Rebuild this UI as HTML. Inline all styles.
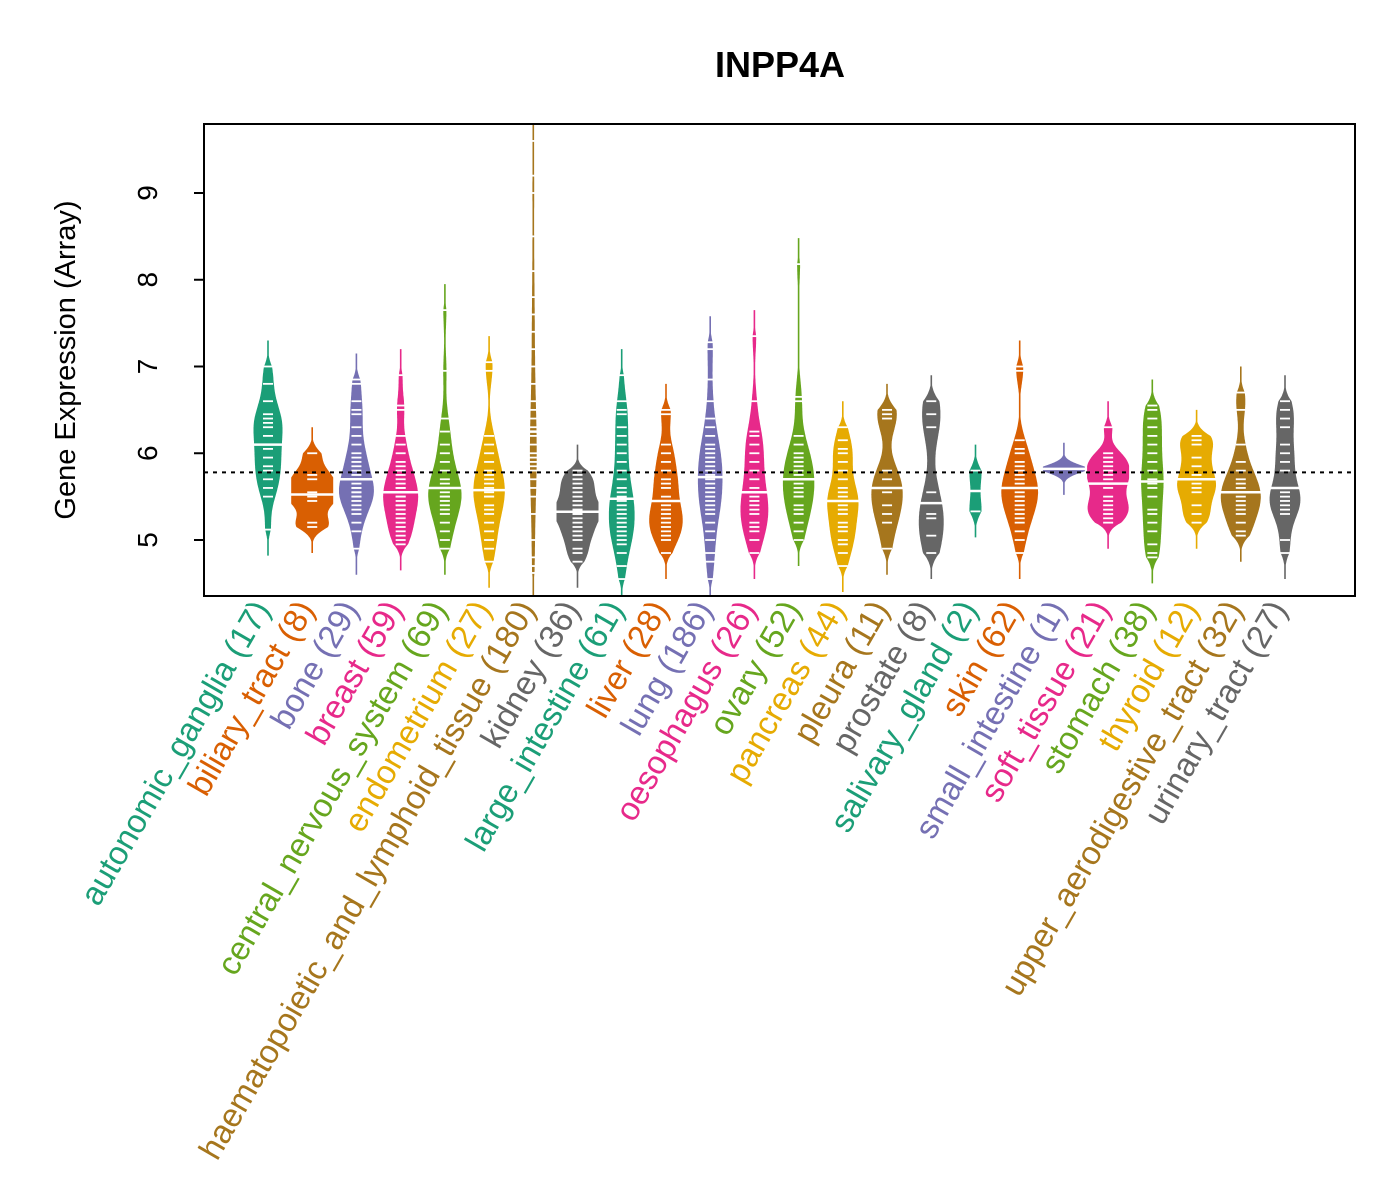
<!DOCTYPE html>
<html><head><meta charset="utf-8"><style>
body{margin:0;background:#fff;}
svg{display:block;font-family:"Liberation Sans",sans-serif;}
</style></head><body>
<svg id="chart" width="1400" height="1200" viewBox="0 0 1400 1200">
<defs><clipPath id="pc"><rect x="204" y="124" width="1151" height="472"/></clipPath></defs>
<rect width="1400" height="1200" fill="#fff"/>
<text x="780" y="77" text-anchor="middle" font-size="36" font-weight="bold">INPP4A</text>
<text transform="translate(75,360) rotate(-90)" text-anchor="middle" font-size="29">Gene Expression (Array)</text>
<g id="yaxis"></g>
<g id="beans" clip-path="url(#pc)"></g>
<line id="refline" stroke="#000" stroke-width="2" stroke-dasharray="4,5"/>
<rect x="204" y="124" width="1151" height="472" fill="none" stroke="#000" stroke-width="2"/>
<g id="labels"></g>
</svg>
<script>
const categories=["autonomic_ganglia","biliary_tract","bone","breast","central_nervous_system","endometrium","haematopoietic_and_lymphoid_tissue","kidney","large_intestine","liver","lung","oesophagus","ovary","pancreas","pleura","prostate","salivary_gland","skin","small_intestine","soft_tissue","stomach","thyroid","upper_aerodigestive_tract","urinary_tract"];
const counts=[17,8,29,59,69,27,180,36,61,28,186,26,52,44,11,8,2,62,1,21,38,12,32,27];
const samples=[
[5.12,5.5,5.6,5.7,5.8,5.85,5.95,6.05,6.1,6.2,6.3,6.35,6.4,6.45,6.6,6.8,7.0],
[5.15,5.2,5.45,5.5,5.55,5.7,5.75,6.0],
[4.9,5.1,5.2,5.3,5.35,5.4,5.45,5.5,5.5,5.55,5.55,5.6,5.6,5.65,5.7,5.75,5.8,5.85,5.9,5.95,6.0,6.1,6.2,6.3,6.45,6.5,6.6,6.8,6.85],
[4.95,5.0,5.05,5.1,5.15,5.2,5.25,5.3,5.35,5.4,5.4,5.45,5.5,5.5,5.55,5.6,5.6,5.65,5.7,5.75,5.8,5.85,5.9,6.0,6.1,6.2,6.5,6.55,6.9],
[4.9,5.0,5.1,5.2,5.3,5.35,5.4,5.45,5.5,5.5,5.55,5.6,5.6,5.65,5.7,5.8,5.9,6.0,6.1,6.25,6.4,6.95,7.65],
[4.75,4.9,5.0,5.1,5.2,5.3,5.35,5.4,5.5,5.5,5.55,5.6,5.65,5.7,5.75,5.8,5.9,6.0,6.1,6.2,6.95,7.05],
[4.62,4.7,4.8,5.0,5.3,5.5,5.6,5.7,5.8,5.85,5.9,5.95,6.0,6.1,6.2,6.3,6.4,6.5,6.6,6.8,7.0,7.2,7.4,7.6,7.8,8.1,8.5,9.0,9.2,9.6],
[4.75,4.85,4.9,5.0,5.05,5.1,5.15,5.2,5.25,5.3,5.3,5.35,5.35,5.4,5.45,5.5,5.55,5.6,5.65,5.7,5.75,5.8],
[4.55,4.7,4.85,4.95,5.0,5.05,5.1,5.15,5.2,5.25,5.3,5.35,5.4,5.45,5.5,5.55,5.6,5.7,5.8,5.9,6.0,6.1,6.2,6.3,6.45,6.5,6.6,6.9],
[4.85,5.0,5.05,5.1,5.15,5.2,5.25,5.3,5.35,5.4,5.5,5.6,5.65,5.7,5.8,5.9,6.0,6.1,6.45,6.5],
[4.55,4.75,4.85,5.0,5.1,5.2,5.3,5.35,5.4,5.45,5.5,5.55,5.6,5.65,5.7,5.75,5.8,5.85,5.9,5.95,6.0,6.05,6.1,6.2,6.3,6.4,6.6,6.85,7.2,7.28],
[4.85,5.0,5.1,5.15,5.2,5.3,5.35,5.4,5.45,5.5,5.6,5.7,5.8,5.9,6.0,6.1,6.2,6.25,6.6,7.35],
[5.0,5.1,5.2,5.3,5.35,5.4,5.5,5.5,5.55,5.6,5.65,5.7,5.75,5.8,5.85,5.9,5.95,6.0,6.1,6.2,6.6,6.65,8.18],
[4.7,4.85,4.95,5.0,5.1,5.15,5.2,5.3,5.35,5.4,5.45,5.5,5.55,5.6,5.7,5.8,5.9,6.0,6.05,6.15,6.3],
[4.9,5.2,5.3,5.4,5.55,5.6,5.7,5.8,6.4,6.45,6.5],
[4.85,5.05,5.25,5.3,5.55,6.3,6.45,6.6],
[5.33,5.8],
[4.85,5.0,5.1,5.2,5.25,5.3,5.35,5.4,5.45,5.5,5.5,5.55,5.6,5.6,5.65,5.7,5.75,5.8,5.85,5.9,6.0,6.05,6.15,6.95,7.0],
[5.82],
[5.2,5.25,5.3,5.35,5.4,5.45,5.5,5.6,5.65,5.7,5.75,5.8,5.85,5.9,5.95,6.0,6.3],
[4.8,4.85,4.95,5.1,5.2,5.3,5.35,5.5,5.6,5.65,5.7,5.8,5.9,6.0,6.1,6.2,6.3,6.4,6.5,6.55],
[5.2,5.3,5.4,5.55,5.6,5.65,5.75,5.85,5.95,6.1,6.15,6.2],
[5.05,5.1,5.2,5.3,5.35,5.4,5.45,5.5,5.55,5.6,5.65,5.7,5.8,5.9,6.1,6.5,6.7],
[4.85,5.0,5.3,5.35,5.4,5.45,5.5,5.55,5.6,5.8,5.9,6.0,6.1,6.3,6.4,6.5,6.6]
];
const overallMean=5.78;
const yTicks=[5,6,7,8,9];
const palette=["#1B9E77","#D95F02","#7570B3","#E7298A","#66A61E","#E6AB02","#A6761D","#666666"];

const NS="http://www.w3.org/2000/svg";
function mk(t,a,p){const e=document.createElementNS(NS,t);for(const k in a)e.setAttribute(k,a[k]);p.appendChild(e);return e;}
const yS=v=>540-(v-5)*86.75;
const xS=i=>268+i*((1285-268)/(categories.length-1));

const yax=document.getElementById('yaxis');
yTicks.forEach(t=>{
  const l=mk('line',{x1:194,x2:204,y1:yS(t),y2:yS(t),stroke:'#000','stroke-width':2},yax);
  
  
  const tx=mk('text',{transform:`translate(157,${yS(t)}) rotate(-90)`,'text-anchor':'middle','font-size':28},yax);
  tx.textContent=t;
  
  
});
const rl=document.getElementById('refline');
rl.setAttribute('x1',204);rl.setAttribute('x2',1355);rl.setAttribute('y1',yS(overallMean));rl.setAttribute('y2',yS(overallMean));

const beans=document.getElementById('beans');
const labs=document.getElementById('labels');
categories.forEach((c,i)=>{
  const v=samples[i].slice().sort((a,b)=>a-b), n=v.length, col=palette[i%8], x=xS(i);
  const mean=v.reduce((a,b)=>a+b,0)/n;
  const sd=n>1?Math.sqrt(v.reduce((a,b)=>a+(b-mean)**2,0)/(n-1)):0;
  let bw=Math.max(0.08,0.9*sd*Math.pow(n,-0.2)*0.7);
  const lo=v[0]-0.3, hi=v[n-1]+0.3;
  let sc=n<3?0.28:1;
  if(c.startsWith('haemato')) sc=0.5;
  const pts=[],N=200;
  for(let k=0;k<=N;k++){
    const y=lo+(hi-lo)*k/N;let d=0;
    v.forEach(s=>{d+=Math.exp(-0.5*((y-s)/bw)**2);});
    d/=n*bw*Math.sqrt(2*Math.PI);
    const e=Math.min(y-lo,hi-y), tap=Math.min(1,e/0.3);
    const hw=Math.min(21,Math.max(0.8,d*19*sc*tap*tap));
    pts.push([y,hw]);
  }
  const right=pts.map(p=>`${(x+p[1]).toFixed(1)},${yS(p[0]).toFixed(1)}`);
  const left=pts.slice().reverse().map(p=>`${(x-p[1]).toFixed(1)},${yS(p[0]).toFixed(1)}`);
  const g=mk('g',{},beans);
  
  
  const poly=mk('polygon',{points:right.concat(left).join(' '),fill:col},g);
  
  
  v.forEach(s=>{
    const l=mk('line',{x1:x-5,x2:x+5,y1:yS(s),y2:yS(s),stroke:'#fff','stroke-width':1.8},g);
    
    
  });
  const med=n%2?v[(n-1)/2]:(v[n/2-1]+v[n/2])/2;
  let mw=0;pts.forEach(p=>{if(Math.abs(p[0]-med)<(hi-lo)/N)mw=Math.max(mw,p[1]);});
  mw=Math.max(mw,6)+3;
  const ml=mk('line',{x1:x-mw,x2:x+mw,y1:yS(med),y2:yS(med),stroke:'#fff','stroke-width':2.5},g);
  
  
  const t=mk('text',{transform:`translate(${x+3},609) rotate(-60)`,'text-anchor':'end','font-size':33,fill:col},labs);
  t.textContent=`${c} (${counts[i]})`;
  
  
});
</script>
</body></html>
